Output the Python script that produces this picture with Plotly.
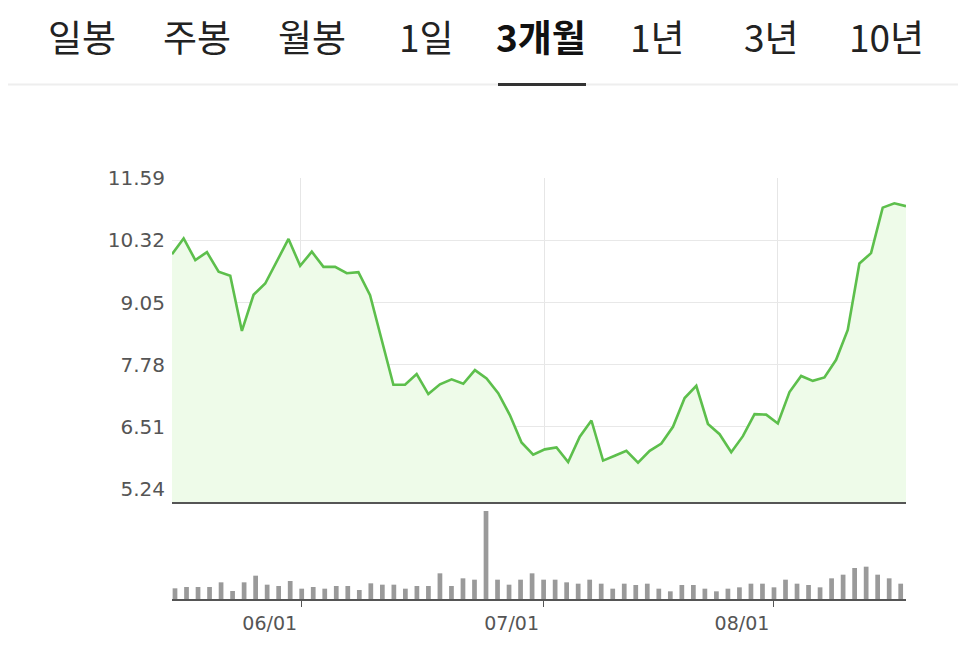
import pandas as pd
import plotly.graph_objects as go

# ---- data ----
tabs = ["일봉", "주봉", "월봉", "1일", "3개월", "1년", "3년", "10년"]
active_tab = "3개월"

holidays = ["2022-05-30", "2022-06-20", "2022-07-04"]
dates = [d.strftime("%Y-%m-%d") for d in
         pd.bdate_range("2022-05-16", "2022-08-16", freq="C", holidays=holidays)]

price = [10.04, 10.36, 9.92, 10.08, 9.68, 9.60, 8.47, 9.21, 9.44, 9.89,
         10.35, 9.80, 10.09, 9.78, 9.78, 9.65, 9.67, 9.20, 8.30, 7.37,
         7.37, 7.59, 7.18, 7.38, 7.48, 7.39, 7.67, 7.50, 7.20, 6.75,
         6.19, 5.94, 6.05, 6.09, 5.79, 6.31, 6.64, 5.82, 5.92, 6.02,
         5.78, 6.02, 6.17, 6.51, 7.10, 7.35, 6.57, 6.36, 5.99, 6.32,
         6.77, 6.76, 6.58, 7.22, 7.55, 7.45, 7.52, 7.88, 8.49, 9.85,
         10.06, 10.99, 11.08, 11.02]

volume = [32, 36, 36, 36, 50, 24, 50, 70, 43, 39, 54, 31, 36, 31, 39, 39,
          27, 47, 43, 43, 31, 39, 39, 77, 39, 62, 58, 264, 58, 43, 58, 77,
          58, 58, 50, 46, 58, 46, 31, 46, 42, 46, 31, 23, 42, 42, 31, 23,
          31, 35, 46, 46, 35, 58, 46, 42, 35, 62, 73, 93, 97, 73, 62, 46]

y_ticks = [5.24, 6.51, 7.78, 9.05, 10.32, 11.59]
x_tick_dates = ["2022-06-01", "2022-07-01", "2022-08-01"]
x_tick_text = ["06/01", "07/01", "08/01"]

# ---- layout geometry (pixels, page has an 8px body margin) ----
OFF = 8
W, H = 966 - OFF, 653 - OFF
L, R, T, B = 172 - OFF, 906 - OFF, 178 - OFF, 599 - OFF


def px(x):  # reference screen x -> paper
    return (x - OFF - L) / (R - L)


def py(y):  # reference screen y -> paper
    return (B - (y - OFF)) / (B - T)


fig = go.Figure()
fig.add_trace(go.Scatter(
    x=dates, y=price, mode="lines", xaxis="x", yaxis="y",
    line=dict(color="#5dbf4c", width=2.6),
    fill="tozeroy", fillcolor="#eefbe9", hoverinfo="skip"))
fig.add_trace(go.Bar(
    x=dates, y=volume, xaxis="x2", yaxis="y2",
    marker=dict(color="#9a9a9a", line=dict(width=0)), width=0.41,
    hoverinfo="skip"))

axis_font = dict(family="DejaVu Sans", size=20, color="#555555")

fig.update_layout(
    width=W, height=H,
    margin=dict(l=L, r=W - R, t=T, b=H - B),
    paper_bgcolor="white", plot_bgcolor="white",
    showlegend=False,
    xaxis=dict(type="category", range=[0, len(dates) - 1],
               domain=[0, 1], anchor="y",
               tickvals=x_tick_dates, showticklabels=False, ticks="",
               showgrid=True, gridcolor="#e6e6e6", gridwidth=1,
               showline=True, linecolor="#555555", linewidth=2,
               zeroline=False),
    yaxis=dict(range=[4.974, 11.596], domain=[py(502), 1], anchor="x",
               tickvals=y_ticks, ticktext=[f"{v:.2f}" for v in y_ticks],
               tickfont=axis_font, ticks="", ticklabelstandoff=6,
               showgrid=True, gridcolor="#e8e8e8", gridwidth=1,
               showline=False, zeroline=False),
    xaxis2=dict(type="category", range=[-0.26, len(dates) - 1 + 0.46],
                domain=[0, 1], anchor="y2",
                tickvals=x_tick_dates, ticktext=x_tick_text,
                tickfont=dict(family="DejaVu Sans", size=19, color="#555555"),
                ticks="outside", ticklen=6,
                tickcolor="#555555", ticklabelshift=-32,
                showgrid=False, showline=True, linecolor="#555555",
                linewidth=2, zeroline=False),
    yaxis2=dict(range=[0, 264], domain=[0, py(511)], anchor="x2",
                showticklabels=False, showgrid=False, zeroline=False,
                showline=False, ticks=""),
)

# tab bar
tab_centers = [82, 197, 312, 426, 541, 657, 771, 886]
for name, cx in zip(tabs, tab_centers):
    bold = name == active_tab
    fig.add_annotation(
        x=px(cx), y=py(36), xref="paper", yref="paper",
        text=f"<b>{name}</b>" if bold else name, showarrow=False,
        xanchor="center", yanchor="middle",
        font=dict(family="Noto Sans CJK KR", size=37,
                  color="#111111" if bold else "#222222"))

fig.add_shape(type="line", xref="paper", yref="paper",
              x0=px(0), x1=px(966), y0=py(84.5), y1=py(84.5),
              line=dict(color="#eeeeee", width=2))
fig.add_shape(type="rect", xref="paper", yref="paper",
              x0=px(498), x1=px(586), y0=py(83), y1=py(86),
              fillcolor="#333333", line=dict(width=0))

fig.write_html("out.html")
